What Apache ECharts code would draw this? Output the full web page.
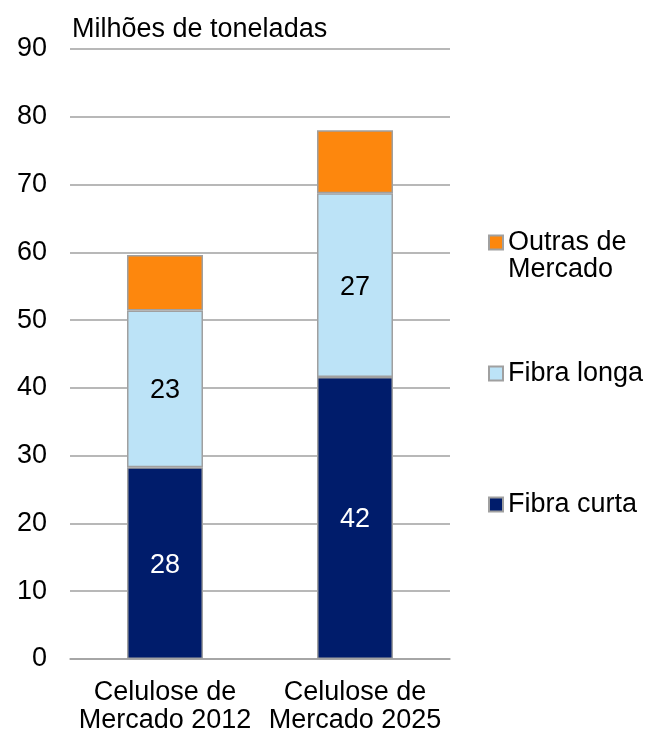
<!DOCTYPE html>
<html>
<head>
<meta charset="utf-8">
<script src="https://cdn.jsdelivr.net/npm/echarts@6/dist/echarts.min.js"></script>
<style>
html, body { margin: 0; padding: 0; background: #ffffff; }
#box { width: 648px; height: 735px; }
</style>
</head>
<body>
<div id="box"></div>
<script>
// dados
const categorias = ["Celulose de\nMercado 2012", "Celulose de\nMercado 2025"]
const fibraCurta = [28.3, 41.6]
const fibraLonga = [23.1, 27.1]
const outras = [8.2, 9.3]
const yTicks = [0, 10, 20, 30, 40, 50, 60, 70, 80, 90]

const fonte = "Liberation Sans, Arial, sans-serif"
const borda = { borderColor: "#a0a0a0", borderWidth: 1.5 }
const fs = 27

let myCharts = echarts.init(document.getElementById("box"))

function legenda(nome, top, formatter) {
	return {
		orient: "vertical",
		left: 488,
		top: top,
		padding: 0,
		icon: "rect",
		data: [nome],
		formatter: formatter,
		itemWidth: 14,
		itemHeight: 14,
		itemGap: 0,
		selectedMode: false,
		textStyle: { fontFamily: fonte, fontSize: fs, color: "#000", lineHeight: 27 },
	}
}

let option = {
	animation: false,
	textStyle: { fontFamily: fonte },
	title: {
		text: "Milhões de toneladas",
		left: 72,
		top: 16,
		padding: 0,
		textStyle: { fontFamily: fonte, fontSize: fs, fontWeight: "normal", color: "#000" },
	},
	legend: [
		// linha vazia em cima para o ícone ficar na altura da primeira linha
		legenda("Outras de\nMercado", 202, (n) => " \n" + n),
		legenda("Fibra longa", 360),
		legenda("Fibra curta", 491),
	],
	grid: { left: 70, right: 198, top: 49, bottom: 76 },
	xAxis: {
		type: "category",
		data: categorias,
		axisLine: { lineStyle: { color: "#a0a0a0", width: 1.5 } },
		axisTick: { show: false },
		axisLabel: { interval: 0, fontFamily: fonte, fontSize: fs, color: "#000", lineHeight: 28, margin: 20 },
	},
	yAxis: {
		type: "value",
		min: yTicks[0],
		max: yTicks[yTicks.length - 1],
		interval: 10,
		axisLine: { show: false },
		axisTick: { show: false },
		splitLine: { lineStyle: { color: "#a0a0a0", width: 1.5 } },
		axisLabel: { fontFamily: fonte, fontSize: fs, color: "#000", margin: 23, padding: [3, 0, 0, 0] },
	},
	series: [
		{
			name: "Fibra curta",
			type: "bar",
			stack: "total",
			barWidth: "40%",
			data: fibraCurta,
			itemStyle: Object.assign({ color: "#001c6b" }, borda),
			label: {
				show: true,
				color: "#ffffff",
				fontSize: fs,
				fontFamily: fonte,
				offset: [0, 2],
				formatter: (p) => Math.round(p.value),
			},
		},
		{
			name: "Fibra longa",
			type: "bar",
			stack: "total",
			data: fibraLonga,
			itemStyle: Object.assign({ color: "#bce3f7" }, borda),
			label: {
				show: true,
				color: "#000000",
				fontSize: fs,
				fontFamily: fonte,
				offset: [0, 2],
				formatter: (p) => Math.round(p.value),
			},
		},
		{
			name: "Outras de\nMercado",
			type: "bar",
			stack: "total",
			data: outras,
			itemStyle: Object.assign({ color: "#fd870d" }, borda),
		},
	],
}
myCharts.setOption(option)
</script>
</body>
</html>
